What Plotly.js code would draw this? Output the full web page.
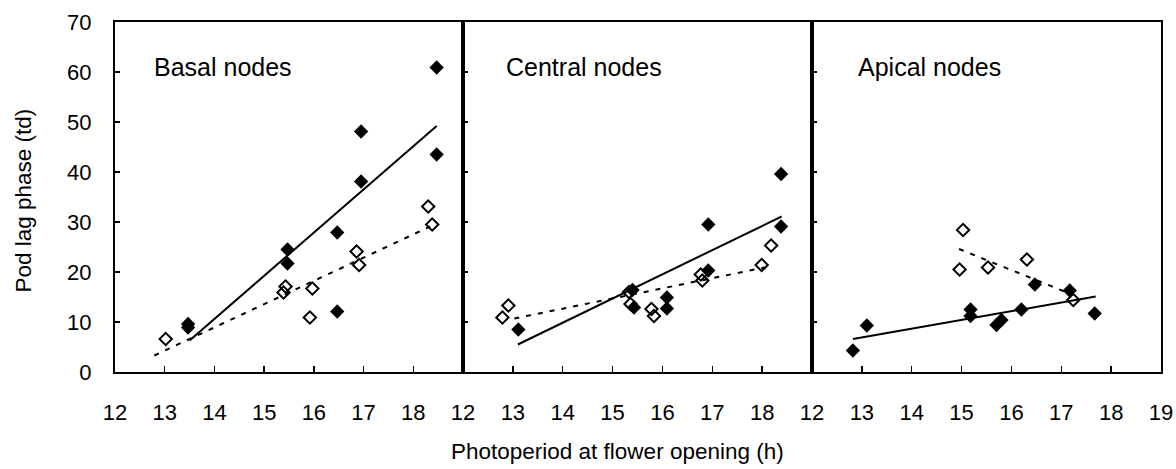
<!DOCTYPE html>
<html>
<head>
<meta charset="utf-8">
<script src="https://cdn.plot.ly/plotly-3.0.1.min.js"></script>
<style>html,body{margin:0;padding:0;background:#fff;}#chart{width:1176px;height:469px;}</style>
</head>
<body>
<div id="chart"></div>
<script>
// Basal nodes
const basalFilledX = [13.47, 13.47, 15.47, 15.47, 16.47, 16.47, 16.95, 16.95, 18.47, 18.47];
const basalFilledY = [9.6, 8.9, 24.5, 21.7, 27.9, 12.1, 38.1, 48.1, 60.9, 43.5];
const basalOpenX = [13.02, 15.43, 15.39, 15.97, 15.92, 16.86, 16.91, 18.30, 18.38];
const basalOpenY = [6.6, 17.1, 15.9, 16.7, 10.9, 24.1, 21.4, 33.1, 29.5];
const basalSolidX = [13.5, 18.47];
const basalSolidY = [6.3, 49.2];
const basalDashX = [12.79, 18.34];
const basalDashY = [3.3, 29.1];

// Central nodes
const centralFilledX = [13.11, 15.40, 15.43, 16.09, 16.09, 16.92, 16.92, 18.38, 18.38];
const centralFilledY = [8.5, 16.4, 12.9, 14.9, 12.7, 29.5, 20.3, 29.1, 39.6];
const centralOpenX = [12.79, 12.91, 15.33, 15.36, 15.78, 15.83, 16.77, 16.80, 17.99, 18.18];
const centralOpenY = [10.9, 13.3, 16.0, 13.6, 12.6, 11.2, 19.5, 18.3, 21.4, 25.3];
const centralSolidX = [13.10, 18.39];
const centralSolidY = [5.5, 31.1];
const centralDashX = [13.03, 18.10];
const centralDashY = [10.7, 21.0];

// Apical nodes
const apicalFilledX = [12.82, 13.10, 15.18, 15.18, 15.70, 15.80, 16.20, 16.47, 17.17, 17.67];
const apicalFilledY = [4.3, 9.3, 12.5, 11.2, 9.4, 10.4, 12.5, 17.5, 16.3, 11.7];
const apicalOpenX = [15.03, 14.96, 15.53, 16.31, 17.24];
const apicalOpenY = [28.4, 20.5, 20.9, 22.5, 14.4];
const apicalSolidX = [12.82, 17.69];
const apicalSolidY = [6.6, 15.1];
const apicalDashX = [14.95, 17.24];
const apicalDashY = [24.6, 15.4];

const panelLabels = ["Basal nodes", "Central nodes", "Apical nodes"];
const panelLabelX = [12.74, 12.82, 12.88];
const panelLabelY = 61;
const yTicks = [0, 10, 20, 30, 40, 50, 60, 70];
const xTicksA = [12, 13, 14, 15, 16, 17, 18];
const xTicksB = [12, 13, 14, 15, 16, 17, 18, 19];
const xTitle = "Photoperiod at flower opening (h)";
const yTitle = "Pod lag phase (td)";

const FONT = "Liberation Sans, Arial, sans-serif";
const panels = [
  {fx: basalFilledX, fy: basalFilledY, ox: basalOpenX, oy: basalOpenY, sx: basalSolidX, sy: basalSolidY, dx: basalDashX, dy: basalDashY},
  {fx: centralFilledX, fy: centralFilledY, ox: centralOpenX, oy: centralOpenY, sx: centralSolidX, sy: centralSolidY, dx: centralDashX, dy: centralDashY},
  {fx: apicalFilledX, fy: apicalFilledY, ox: apicalOpenX, oy: apicalOpenY, sx: apicalSolidX, sy: apicalSolidY, dx: apicalDashX, dy: apicalDashY}
];

const traces = [];
panels.forEach((p, i) => {
  const xa = i === 0 ? 'x' : 'x' + (i + 1);
  const ya = i === 0 ? 'y' : 'y' + (i + 1);
  traces.push({x: p.dx, y: p.dy, xaxis: xa, yaxis: ya, mode: 'lines', line: {color: '#000', width: 2, dash: '5px,7px'}, hoverinfo: 'skip'});
  traces.push({x: p.sx, y: p.sy, xaxis: xa, yaxis: ya, mode: 'lines', line: {color: '#000', width: 2}, hoverinfo: 'skip'});
  traces.push({x: p.ox, y: p.oy, xaxis: xa, yaxis: ya, mode: 'markers', marker: {symbol: 'diamond-open', size: 9.5, color: '#000', line: {width: 2, color: '#000'}}});
  traces.push({x: p.fx, y: p.fy, xaxis: xa, yaxis: ya, mode: 'markers', marker: {symbol: 'diamond', size: 11, color: '#000', line: {width: 0}}});
});

const d1 = 348 / 1046, d2 = 697 / 1046;
const domains = [[0, d1], [d1, d2], [d2, 1]];

function xaxis(i) {
  return {
    domain: domains[i], range: [12, 19], anchor: i === 0 ? 'y' : 'y' + (i + 1),
    tickvals: i === 2 ? xTicksB : xTicksA, ticktext: (i === 2 ? xTicksB : xTicksA).map(String),
    ticks: 'inside', ticklen: 6, tickwidth: 1.5, tickcolor: '#000',
    showline: true, linewidth: 2, linecolor: '#000', mirror: true,
    showgrid: false, zeroline: false, fixedrange: true,
    tickfont: {family: FONT, size: 22, color: '#000'}, ticklabelstandoff: 20
  };
}
function yaxis(i) {
  return {
    domain: [0, 1], range: [0, 70], anchor: i === 0 ? 'x' : 'x' + (i + 1),
    tickvals: yTicks, ticktext: yTicks.map(String), showticklabels: i === 0,
    ticks: 'inside', ticklen: 5, tickwidth: 1.5, tickcolor: '#000',
    showline: true, linewidth: 2, linecolor: '#000', mirror: true,
    showgrid: false, zeroline: false, fixedrange: true,
    tickfont: {family: FONT, size: 22, color: '#000'}, ticklabelstandoff: 17
  };
}

const annotations = panelLabels.map((t, i) => ({
  text: t, x: panelLabelX[i], y: panelLabelY, xref: i === 0 ? 'x' : 'x' + (i + 1), yref: i === 0 ? 'y' : 'y' + (i + 1),
  xanchor: 'left', yanchor: 'middle', showarrow: false, font: {family: FONT, size: 25, color: '#000'}
}));
annotations.push({text: xTitle, x: (617 - 115) / 1046, y: (372 - 451) / 350, xref: 'paper', yref: 'paper', showarrow: false,
  font: {family: FONT, size: 22.5, color: '#000'}, xanchor: 'center', yanchor: 'middle'});
annotations.push({text: yTitle, x: (23 - 115) / 1046, y: 0.49, xref: 'paper', yref: 'paper', showarrow: false,
  textangle: -90, font: {family: FONT, size: 22.5, color: '#000'}, xanchor: 'center', yanchor: 'middle'});

const layout = {
  width: 1176, height: 469,
  margin: {l: 115, r: 15, t: 22, b: 97},
  paper_bgcolor: '#fff', plot_bgcolor: '#fff',
  showlegend: false,
  xaxis: xaxis(0), xaxis2: xaxis(1), xaxis3: xaxis(2),
  yaxis: yaxis(0), yaxis2: yaxis(1), yaxis3: yaxis(2),
  annotations: annotations,
  font: {family: FONT, color: '#000'}
};

Plotly.newPlot('chart', traces, layout, {displayModeBar: false, staticPlot: true});
</script>
</body>
</html>
